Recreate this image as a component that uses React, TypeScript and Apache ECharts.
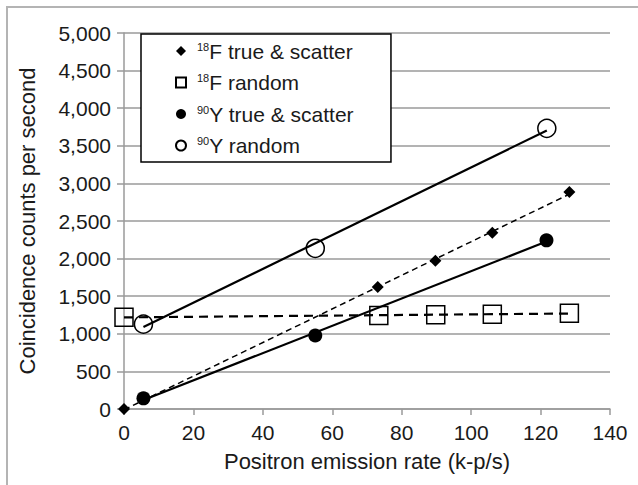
import React, { useEffect, useRef } from 'react';
import * as echarts from 'echarts';

// Legend text parts
const massNumbers = ['18', '18', '90', '90'];
const elements = ['F', 'F', 'Y', 'Y'];
const kinds = ['true & scatter', 'random', 'true & scatter', 'random'];
const seriesNames = massNumbers.map((m, i) => `${m}${elements[i]} ${kinds[i]}`);

// Data
const f18TrueX = [0, 73.1, 89.7, 106.1, 128.3];
const f18TrueY = [0, 1624, 1973, 2345, 2885];
const f18RandomX = [0, 73.4, 89.8, 106.1, 128.3];
const f18RandomY = [1221, 1243, 1252, 1261, 1274];
const y90TrueX = [5.6, 55.1, 121.7];
const y90TrueY = [142, 978, 2243];
const y90RandomX = [5.6, 55.1, 121.8];
const y90RandomY = [1128, 2137, 3732];

// Axes
const xTicks = [0, 20, 40, 60, 80, 100, 120, 140];
const yTicks = [0, 500, 1000, 1500, 2000, 2500, 3000, 3500, 4000, 4500, 5000];

const FONT = '"Liberation Sans", Arial, sans-serif';
const TXT = '#1a1a1a';

function pairs(xs: number[], ys: number[]) {
  return xs.map((x, i) => [x, ys[i]]);
}

function fitLine(xs: number[], ys: number[]) {
  const n = xs.length;
  const mx = xs.reduce((a, b) => a + b, 0) / n;
  const my = ys.reduce((a, b) => a + b, 0) / n;
  let sxx = 0;
  let sxy = 0;
  for (let i = 0; i < n; i++) {
    sxx += (xs[i] - mx) * (xs[i] - mx);
    sxy += (xs[i] - mx) * (ys[i] - my);
  }
  const slope = sxy / sxx;
  const icpt = my - slope * mx;
  const x0 = Math.min(...xs);
  const x1 = Math.max(...xs);
  return [
    [x0, icpt + slope * x0],
    [x1, icpt + slope * x1],
  ];
}

export default function App() {
  const ref = useRef<HTMLDivElement>(null);

  useEffect(() => {
    if (!ref.current) return;
    const chart = echarts.init(ref.current, null, { renderer: 'svg' });

    const markerDefs = [
      { symbol: 'diamond', size: 12, fill: '#000' },
      { symbol: 'rect', size: 18, fill: 'transparent' },
      { symbol: 'circle', size: 14, fill: '#000' },
      { symbol: 'circle', size: 18, fill: 'transparent' },
    ];
    const dataSets = [
      [f18TrueX, f18TrueY],
      [f18RandomX, f18RandomY],
      [y90TrueX, y90TrueY],
      [y90RandomX, y90RandomY],
    ];
    const lineStyles = [
      { width: 1.5, type: [6, 4] as any },
      { width: 2.2, type: [9, 6] as any },
      { width: 2.2, type: 'solid' as any },
      { width: 2.2, type: 'solid' as any },
    ];

    const fitSeries = dataSets.map(([xs, ys], i) => ({
      type: 'line',
      name: 'fit' + i,
      data: fitLine(xs, ys),
      showSymbol: false,
      silent: true,
      z: 1,
      lineStyle: { color: '#000', width: lineStyles[i].width, type: lineStyles[i].type },
    }));

    const markerSeries = dataSets.map(([xs, ys], i) => ({
      type: 'scatter',
      name: seriesNames[i],
      data: pairs(xs, ys),
      symbol: markerDefs[i].symbol,
      symbolSize: markerDefs[i].size,
      z: 3,
      itemStyle: {
        color: markerDefs[i].fill,
        borderColor: '#000',
        borderWidth: markerDefs[i].fill === '#000' ? 0 : 1.5,
        opacity: 1,
      },
    }));

    chart.setOption({
      animation: false,
      backgroundColor: '#fff',
      graphic: [
        {
          type: 'rect',
          shape: { x: 7, y: 7, width: 700, height: 600 },
          style: { fill: 'none', stroke: '#b4b4b4', lineWidth: 2 },
          silent: true,
        },
      ],
      grid: { left: 124, right: 28, top: 33, bottom: 76 },
      xAxis: {
        type: 'value',
        min: xTicks[0],
        max: xTicks[xTicks.length - 1],
        interval: xTicks[1] - xTicks[0],
        name: 'Positron emission rate (k-p/s)',
        nameLocation: 'middle',
        nameGap: 41,
        nameTextStyle: { fontFamily: FONT, fontSize: 22, color: TXT },
        axisLine: { show: true, lineStyle: { color: '#9a9a9a', width: 1.5 } },
        axisTick: { show: true, inside: false, length: 6, lineStyle: { color: '#9a9a9a', width: 1.5 } },
        axisLabel: { fontFamily: FONT, fontSize: 21, color: TXT, margin: 13 },
        splitLine: { show: false },
      },
      yAxis: {
        type: 'value',
        min: yTicks[0],
        max: yTicks[yTicks.length - 1],
        interval: yTicks[1] - yTicks[0],
        name: 'Coincidence counts per second',
        nameLocation: 'middle',
        nameGap: 86,
        nameTextStyle: { fontFamily: FONT, fontSize: 22, color: TXT },
        axisLine: { show: true, lineStyle: { color: '#9a9a9a', width: 1.5 } },
        axisTick: { show: true, inside: false, length: 7, lineStyle: { color: '#9a9a9a', width: 1.5 } },
        axisLabel: {
          fontFamily: FONT,
          fontSize: 21,
          color: TXT,
          margin: 13,
          formatter: (v: number) => v.toLocaleString('en-US'),
        },
        splitLine: { show: true, lineStyle: { color: '#9a9a9a', width: 1.5 } },
      },
      legend: {
        show: true,
        orient: 'vertical',
        left: 141,
        top: 34,
        data: seriesNames,
        itemWidth: 10,
        itemHeight: 10,
        itemGap: 10,
        padding: [6, 37, 6, 34],
        borderColor: '#000',
        borderWidth: 1.5,
        borderRadius: 0,
        backgroundColor: '#fff',
        formatter: (name: string) => {
          const i = seriesNames.indexOf(name);
          return `{sup|${massNumbers[i]}}{n|${elements[i]} ${kinds[i]}}`;
        },
        textStyle: {
          fontFamily: FONT,
          fontSize: 21,
          color: TXT,
          rich: {
            sup: { fontFamily: FONT, fontSize: 11, lineHeight: 12, verticalAlign: 'top', padding: [1, 0, 0, 6], color: TXT },
            n: { fontFamily: FONT, fontSize: 21, lineHeight: 22, color: TXT },
          },
        },
      },
      series: [...fitSeries, ...markerSeries],
    });

    return () => chart.dispose();
  }, []);

  return (
    <div
      ref={ref}
      style={{ position: 'fixed', left: 0, top: 0, width: 638, height: 485 }}
    />
  );
}
